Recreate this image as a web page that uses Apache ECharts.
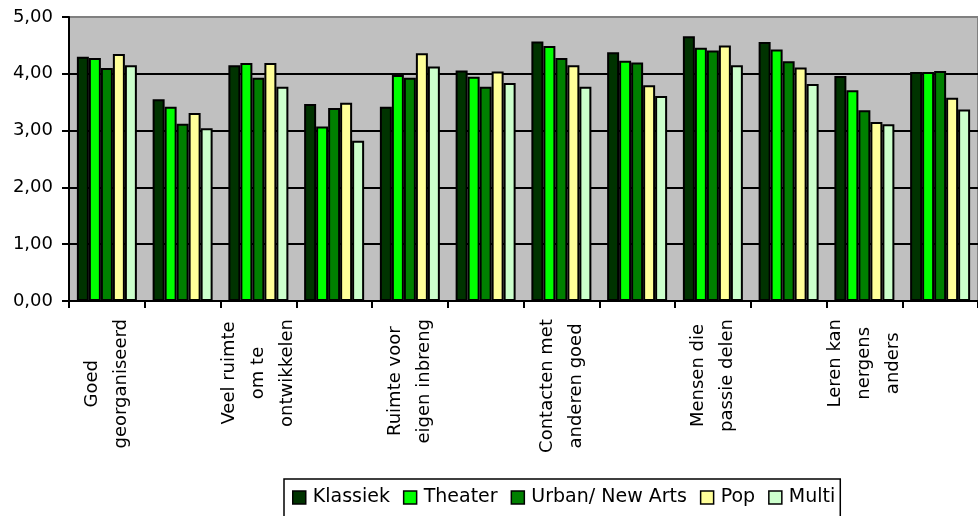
<!DOCTYPE html>
<html>
<head>
<meta charset="utf-8">
<script src="https://cdn.jsdelivr.net/npm/echarts@6/dist/echarts.min.js"></script>
<style>
html,body{margin:0;padding:0;background:#fff;}
#c{width:978px;height:516px;}
</style>
</head>
<body>
<div id="c"></div>
<script>
const categories = [
  "Goed\ngeorganiseerd", "",
  "Veel ruimte\nom te\nontwikkelen", " ",
  "Ruimte voor\neigen inbreng", "  ",
  "Contacten met\nanderen goed", "   ",
  "Mensen die\npassie delen", "    ",
  "Leren kan\nnergens\nanders", "     "
];
const seriesNames = ["Klassiek", "Theater", "Urban/ New Arts", "Pop", "Multi"];
const klassiek = [4.30, 3.55, 4.15, 3.47, 3.42, 4.06, 4.57, 4.38, 4.66, 4.56, 3.96, 4.03];
const theater  = [4.28, 3.42, 4.19, 3.07, 3.98, 3.95, 4.49, 4.23, 4.46, 4.43, 3.71, 4.03];
const urban    = [4.10, 3.12, 3.93, 3.40, 3.93, 3.77, 4.28, 4.20, 4.41, 4.22, 3.36, 4.05];
const pop      = [4.35, 3.31, 4.19, 3.49, 4.36, 4.04, 4.15, 3.80, 4.50, 4.11, 3.15, 3.58];
const multi    = [4.15, 3.04, 3.77, 2.82, 4.13, 3.84, 3.77, 3.61, 4.15, 3.82, 3.11, 3.37];
const colors = ["#003300", "#00ff00", "#008000", "#ffff99", "#ccffcc"];
const yTicks = [0, 1, 2, 3, 4, 5];

const FONT = "DejaVu Sans";
const allData = [klassiek, theater, urban, pop, multi];

const chart = echarts.init(document.getElementById('c'), null, {renderer: 'canvas'});
chart.setOption({
  animation: false,
  backgroundColor: '#ffffff',
  textStyle: {fontFamily: FONT},
  grid: {
    left: 69, top: 17, width: 915, height: 284,
    show: true, backgroundColor: '#c0c0c0',
    borderColor: '#808080', borderWidth: 2
  },
  legend: {
    left: 284, top: 479,
    orient: 'horizontal',
    data: seriesNames,
    itemWidth: 13, itemHeight: 13, itemGap: 13,
    icon: 'rect',
    borderColor: '#000', borderWidth: 1.5,
    padding: [9, 5, 14, 8],
    itemStyle: {borderColor: '#000', borderWidth: 1.5},
    textStyle: {fontFamily: FONT, fontSize: 19, color: '#000', padding: [0, 0, 0, 2]}
  },
  xAxis: {
    type: 'category',
    data: categories,
    boundaryGap: true,
    axisLine: {show: true, lineStyle: {color: '#000', width: 2}},
    axisTick: {show: true, interval: 0, length: 7, lineStyle: {color: '#000', width: 2}},
    splitLine: {show: false},
    axisLabel: {
      interval: 1,
      rotate: 90,
      margin: 18,
      fontFamily: FONT,
      fontSize: 18,
      color: '#000',
      formatter: function (v) {
        return v.split('\n').map(function (s) { return '{c|' + s + '}'; }).join('\n');
      },
      rich: {c: {align: 'center', fontFamily: FONT, fontSize: 18, lineHeight: 29, color: '#000'}}
    }
  },
  yAxis: {
    type: 'value',
    min: yTicks[0], max: yTicks[yTicks.length - 1], interval: 1,
    axisLine: {show: true, lineStyle: {color: '#000', width: 2}},
    axisTick: {show: true, length: 7, lineStyle: {color: '#000', width: 2}},
    splitLine: {show: true, showMaxLine: false, lineStyle: {color: '#000', width: 2}},
    axisLabel: {
      margin: 16,
      fontFamily: FONT, fontSize: 18, color: '#000',
      formatter: function (v) { return v.toFixed(2).replace('.', ','); }
    }
  },
  series: seriesNames.map(function (name, i) {
    return {
      name: name,
      type: 'bar',
      data: allData[i],
      barWidth: 12,
      barGap: '0%',
      itemStyle: {color: colors[i], borderColor: '#000', borderWidth: 2},
      emphasis: {disabled: true}
    };
  })
});
</script>
</body>
</html>
